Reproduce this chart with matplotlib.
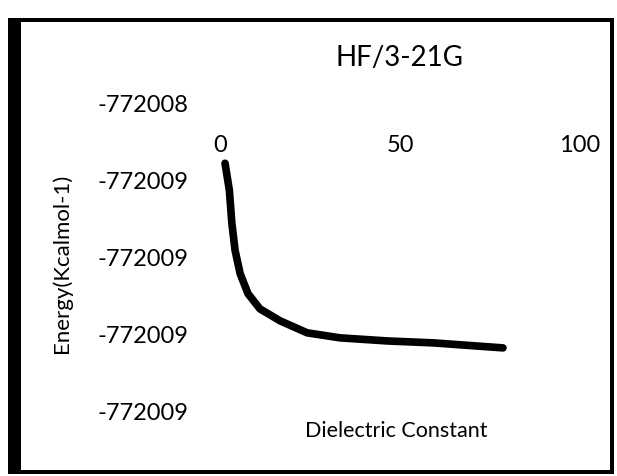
#!/usr/bin/env python3
# -*- coding: utf-8 -*-
"""
HF/3-21G energy vs dielectric constant (scanned Excel chart)
"""

import matplotlib
matplotlib.use('Agg')
import matplotlib.pyplot as plt
import matplotlib.patches as patches
from matplotlib.ticker import FuncFormatter

# ============================================================
# DATA
# ============================================================
TITLE = 'HF/3-21G'
X_LABEL = 'Dielectric Constant'
Y_LABEL = 'Energy(Kcalmol-1)'

dielectric = [1.4, 2.6, 3.3, 4.2, 5.6, 7.8, 11.1, 16.7, 24.2, 33.3, 46.4, 59.2, 78.6]
energy = [-772008.556, -772008.626, -772008.712, -772008.782, -772008.842,
          -772008.894, -772008.933, -772008.964, -772008.995, -772009.008,
          -772009.016, -772009.021, -772009.034]

x_ticks = [0, 50, 100]
y_ticks = [-772008.4, -772008.6, -772008.8, -772009.0, -772009.2]

W, H = 617, 476


def px(x, y):
    # pixel -> figure fraction
    return x / W, 1 - y / H


def draw_frame(fig):
    # scanned border: thick left edge, thin top/right/bottom
    for (x0, y0, x1, y1) in [(8, 18, 21, 474), (8, 18, 614, 22),
                             (610, 18, 614, 474), (8, 470, 614, 474)]:
        fx0, fy1 = px(x0, y0)
        fx1, fy0 = px(x1, y1)
        fig.add_artist(patches.Rectangle((fx0, fy0), fx1 - fx0, fy1 - fy0,
                                         transform=fig.transFigure,
                                         facecolor='black', edgecolor='none'))


def main():
    plt.rcParams['font.family'] = ['Lato', 'DejaVu Sans']

    fig = plt.figure(figsize=(W / 100, H / 100), dpi=100)
    fig.patch.set_facecolor('white')

    left, top = px(220, 103)
    right, bottom = px(580, 412)
    ax = fig.add_axes([left, bottom, right - left, top - bottom])

    ax.plot(dielectric, energy, color='black', linewidth=5.5,
            solid_capstyle='round', solid_joinstyle='round')

    ax.set_xlim(0, 100)
    ax.set_ylim(y_ticks[-1], y_ticks[0])
    ax.set_xticks(x_ticks)
    ax.set_yticks(y_ticks)
    ax.yaxis.set_major_formatter(FuncFormatter(lambda v, p: f'{v:.0f}'))

    for s in ax.spines.values():
        s.set_visible(False)

    # x axis labels sit just under the top of the plot area
    ax.tick_params(axis='x', top=True, labeltop=True, bottom=False,
                   labelbottom=False, length=0, pad=-38, labelsize=17)
    ax.tick_params(axis='y', length=0, pad=23, labelsize=17)

    ax.set_title(TITLE, fontsize=20, pad=27)

    ax.xaxis.set_label_position('bottom')
    ax.set_xlabel(X_LABEL, fontsize=15.5)
    ax.xaxis.set_label_coords(0.49, -0.03)

    ax.set_ylabel(Y_LABEL, fontsize=16)
    ax.yaxis.set_label_coords(-0.41, 0.48)

    draw_frame(fig)

    fig.savefig('out.png', dpi=100, facecolor='white')
    plt.close(fig)


if __name__ == "__main__":
    main()
